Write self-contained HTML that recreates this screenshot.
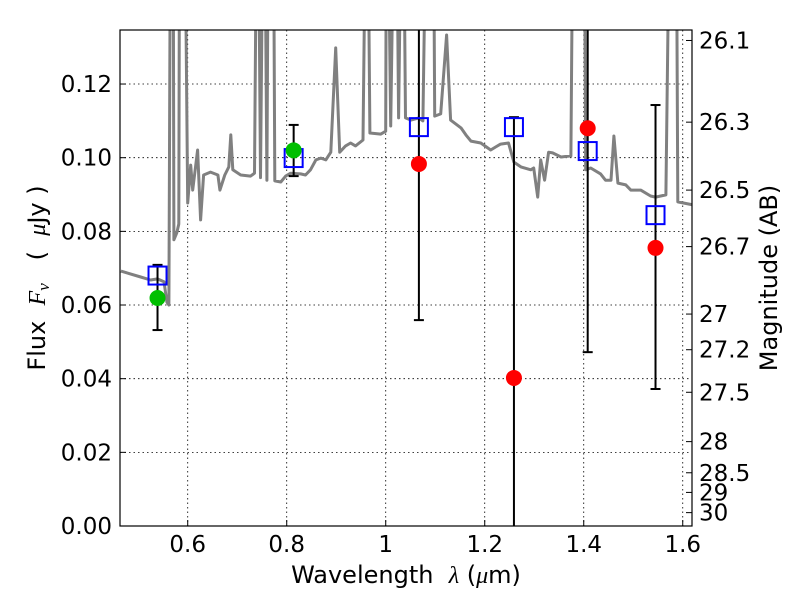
<!DOCTYPE html>
<html><head><meta charset="utf-8"><style>
html,body{margin:0;background:#fff;width:800px;height:600px;overflow:hidden}
svg{display:block;font-family:"DejaVu Sans","Liberation Sans",sans-serif}
text{white-space:pre}
</style></head><body>
<svg id="chart" width="800" height="600" viewBox="0 0 800 600" xmlns="http://www.w3.org/2000/svg">
<rect width="800" height="600" fill="#fff"/>
<defs><clipPath id="clip"><rect x="120" y="30" width="572" height="496"/></clipPath></defs>
<g id="grid"></g>
<g id="spec" clip-path="url(#clip)"></g>
<g id="marks" clip-path="url(#clip)"></g>
<rect x="120" y="30" width="572" height="496" fill="none" stroke="#000" stroke-width="1.2"/>
<g id="axes"></g>
<text x="406" y="583" font-size="24" text-anchor="middle">Wavelength  <tspan font-family="Liberation Serif" font-style="italic">λ</tspan> (<tspan font-family="Liberation Serif" font-style="italic">μ</tspan>m)</text>
<text transform="translate(45,278) rotate(-90)" font-size="24" text-anchor="middle">Flux  <tspan font-family="Liberation Serif" font-style="italic">F</tspan><tspan font-family="Liberation Serif" font-style="italic" font-size="17" dy="4">ν</tspan><tspan dy="-4">   (  </tspan><tspan font-family="Liberation Serif" font-style="italic">μ</tspan>Jy )</text>
<text transform="translate(777,278) rotate(-90)" font-size="24" text-anchor="middle">Magnitude (AB)</text>
</svg>
<script>
const specLam=[0.465,0.505,0.525,0.539,0.552,0.558,0.562,0.566,0.570,0.572,0.578,0.582,0.584,0.592,0.600,0.606,0.610,0.620,0.626,0.632,0.646,0.661,0.665,0.675,0.683,0.687,0.691,0.707,0.727,0.735,0.741,0.747,0.754,0.760,0.764,0.772,0.776,0.788,0.798,0.808,0.828,0.838,0.848,0.859,0.869,0.879,0.889,0.899,0.907,0.919,0.929,0.939,0.954,0.962,0.968,0.990,1.000,1.002,1.010,1.020,1.026,1.034,1.040,1.051,1.067,1.075,1.085,1.095,1.099,1.111,1.123,1.131,1.152,1.162,1.172,1.192,1.212,1.222,1.232,1.248,1.259,1.273,1.293,1.299,1.307,1.313,1.321,1.329,1.337,1.354,1.374,1.380,1.400,1.404,1.414,1.434,1.444,1.455,1.461,1.469,1.485,1.495,1.515,1.535,1.545,1.566,1.576,1.586,1.590,1.620];
const specFlux=[0.0692,0.0676,0.0668,0.0671,0.0663,0.0608,0.0600,0.2,0.2,0.0777,0.0796,0.0820,0.2,0.2,0.0877,0.0980,0.0912,0.1021,0.0831,0.0953,0.0961,0.0953,0.0912,0.0953,0.0975,0.1062,0.0967,0.0953,0.0950,0.0958,0.2,0.0946,0.2,0.0939,0.2,0.2,0.0937,0.0934,0.0950,0.0958,0.0956,0.0953,0.0967,0.0994,0.0999,0.0994,0.1015,0.1298,0.1015,0.1032,0.1040,0.1032,0.1048,0.2,0.1067,0.1064,0.1072,0.2,0.1086,0.2,0.1108,0.2,0.1108,0.1102,0.1108,0.1100,0.2,0.2,0.1113,0.1119,0.1333,0.1102,0.1081,0.1062,0.1045,0.1040,0.1021,0.1029,0.1037,0.1040,0.0988,0.0975,0.0967,0.0972,0.0893,0.0994,0.0939,0.1015,0.1013,0.1002,0.1005,0.2,0.2,0.0967,0.0972,0.0956,0.0939,0.0939,0.1059,0.0931,0.0926,0.0912,0.0912,0.0896,0.0893,0.0899,0.2,0.2,0.0880,0.0872];
const ptLam=[0.539,0.814,1.067,1.259,1.408,1.545];
const ptFlux=[0.0619,0.1020,0.0983,0.0402,0.1080,0.0755];
const ptColor=['green','green','red','red','red','red'];
const modelFlux=[0.0680,0.0999,0.1083,0.1083,0.1018,0.0844];
const errLow=[0.0532,0.0950,0.0559,-0.05,0.0472,0.0372];
const errHigh=[0.0709,0.1089,0.30,0.1110,0.30,0.1143];
const xTicks=[0.6,0.8,1.0,1.2,1.4,1.6];
const xTickLabels=['0.6','0.8','1','1.2','1.4','1.6'];
const yTicks=[0,0.02,0.04,0.06,0.08,0.10,0.12];
const yTickLabels=['0.00','0.02','0.04','0.06','0.08','0.10','0.12'];
const magTicks=[26.1,26.3,26.5,26.7,27,27.2,27.5,28,28.5,29,30];
const magTickLabels=['26.1','26.3','26.5','26.7','27','27.2','27.5','28','28.5','29','30'];

const X0=120,X1=692,Y0=526,Y1=30,LMIN=0.4632,LMAX=1.6187,FMIN=0,FMAX=0.13467;
const sx=l=>X0+(l-LMIN)/(LMAX-LMIN)*(X1-X0);
const sy=f=>Y0-(f-FMIN)/(FMAX-FMIN)*(Y0-Y1);
const magToFlux=m=>Math.pow(10,(23.9-m)/2.5);
const NS='http://www.w3.org/2000/svg';
function mk(tag,attrs,parent){const e=document.createElementNS(NS,tag);for(const k in attrs)e.setAttribute(k,attrs[k]);parent.appendChild(e);return e;}
const grid=document.getElementById('grid'),axes=document.getElementById('axes'),spec=document.getElementById('spec'),marks=document.getElementById('marks');

xTicks.forEach((t,i)=>{const x=sx(t);
 let g=mk('line',{x1:x,x2:x,y1:Y1,y2:Y0,stroke:'#000','stroke-width':0.8,'stroke-dasharray':'1.5,3'},grid);
 
 let tk=mk('line',{x1:x,x2:x,y1:Y0,y2:Y0-6,stroke:'#000','stroke-width':1},axes);
 
 let tx=mk('text',{x:x,y:552,'font-size':23,'text-anchor':'middle'},axes);tx.textContent=xTickLabels[i];
 });
yTicks.forEach((t,i)=>{const y=sy(t);
 let g=mk('line',{x1:X0,x2:X1,y1:y,y2:y,stroke:'#000','stroke-width':0.8,'stroke-dasharray':'1.5,3'},grid);
 
 let tk=mk('line',{x1:X0,x2:X0+6,y1:y,y2:y,stroke:'#000','stroke-width':1},axes);
 
 let tx=mk('text',{x:112,y:y+8,'font-size':23,'text-anchor':'end'},axes);tx.textContent=yTickLabels[i];
 });
magTicks.forEach((m,i)=>{const y=sy(magToFlux(m));
 let tk=mk('line',{x1:X1,x2:X1-6,y1:y,y2:y,stroke:'#000','stroke-width':1},axes);
 
 let tx=mk('text',{x:699,y:y+8,'font-size':23},axes);tx.textContent=magTickLabels[i];
 });

let d=specLam.map((l,i)=>(i?'L':'M')+sx(l).toFixed(1)+','+sy(specFlux[i]).toFixed(1)).join('');
let sp=mk('path',{d:d,fill:'none',stroke:'#808080','stroke-width':3,'stroke-linejoin':'round'},spec);


ptLam.forEach((l,i)=>{const x=sx(l);
 const yl=sy(errLow[i]),yh=sy(errHigh[i]);
 let e=mk('line',{x1:x,x2:x,y1:yl,y2:yh,stroke:'#000','stroke-width':2},marks);
 
 [yl,yh].forEach(yy=>{let c=mk('line',{x1:x-5,x2:x+5,y1:yy,y2:yy,stroke:'#000','stroke-width':2},marks);
  });
 const ym=sy(modelFlux[i]);
 let s=mk('rect',{x:x-9,y:ym-9,width:18,height:18,fill:'none',stroke:'#0000ff','stroke-width':2},marks);
 
 let c=mk('circle',{cx:x,cy:sy(ptFlux[i]),r:8,fill:ptColor[i]==='green'?'#00bf00':'#ff0000'},marks);
 });
</script>
</body></html>
